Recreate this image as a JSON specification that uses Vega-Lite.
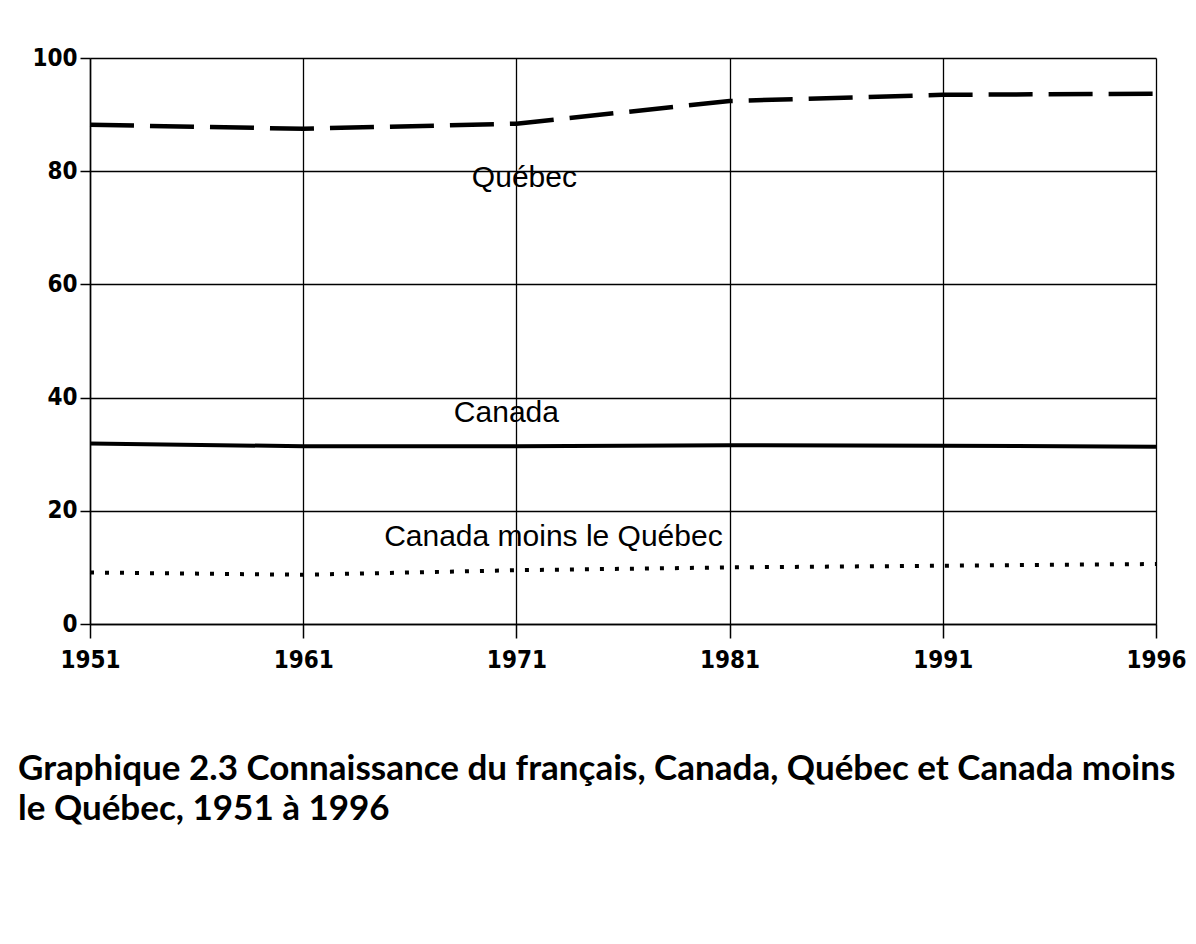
{
  "$schema": "https://vega.github.io/schema/vega-lite/v6.json",
  "autosize": {"type": "none"},
  "width": 1066,
  "height": 566,
  "padding": {"left": 90, "top": 58, "right": 40, "bottom": 320},
  "background": "white",
  "config": {
    "view": {"stroke": null},
    "axis": {
      "gridColor": "black", "gridWidth": 1.3, "gridOpacity": 1,
      "domainColor": "black", "domainWidth": 1.5,
      "tickColor": "black", "tickWidth": 1.5,
      "labelFont": "DejaVu Sans Condensed, Liberation Sans", "labelColor": "black", "labelFontSize": 24, "labelFontWeight": "bold",
      "title": null
    }
  },
  "title": {
    "text": ["Graphique 2.3 Connaissance du français, Canada, Québec et Canada moins", "le Québec, 1951 à 1996"],
    "orient": "bottom", "anchor": "start", "frame": "group",
    "font": "Lato", "fontSize": 35, "fontWeight": "bold", "color": "black",
    "lineHeight": 40, "offset": 80, "dx": -72
  },
  "datasets": {
    "series": [
      {"year": "1951", "series": "Québec", "value": 88.2},
      {"year": "1961", "series": "Québec", "value": 87.5},
      {"year": "1971", "series": "Québec", "value": 88.4},
      {"year": "1981", "series": "Québec", "value": 92.4},
      {"year": "1991", "series": "Québec", "value": 93.5},
      {"year": "1996", "series": "Québec", "value": 93.7},
      {"year": "1951", "series": "Canada", "value": 31.9},
      {"year": "1961", "series": "Canada", "value": 31.4},
      {"year": "1971", "series": "Canada", "value": 31.4},
      {"year": "1981", "series": "Canada", "value": 31.6},
      {"year": "1991", "series": "Canada", "value": 31.5},
      {"year": "1996", "series": "Canada", "value": 31.3},
      {"year": "1951", "series": "Canada moins le Québec", "value": 9.1},
      {"year": "1961", "series": "Canada moins le Québec", "value": 8.7},
      {"year": "1971", "series": "Canada moins le Québec", "value": 9.5},
      {"year": "1981", "series": "Canada moins le Québec", "value": 10.0},
      {"year": "1991", "series": "Canada moins le Québec", "value": 10.3},
      {"year": "1996", "series": "Canada moins le Québec", "value": 10.6}
    ],
    "labels": [
      {"label": "Québec", "year": "1971", "value": 78.8},
      {"label": "Canada", "year": "1971", "value": 37.3},
      {"label": "Canada moins le Québec", "year": "1971", "value": 15.4}
    ]
  },
  "layer": [
    {
      "data": {"name": "series"},
      "transform": [{"filter": "datum.series === 'Québec'"}],
      "mark": {"type": "line", "color": "black", "strokeWidth": 4.5, "strokeDash": [44, 16]},
      "encoding": {
        "x": {"field": "year", "type": "ordinal", "scale": {"type": "point", "padding": 0},
          "axis": {"grid": true, "labelAngle": 0, "tickSize": 14, "labelPadding": 10, "domain": true}},
        "y": {"field": "value", "type": "quantitative", "scale": {"domain": [0, 100], "nice": false},
          "axis": {"grid": true, "values": [0, 20, 40, 60, 80, 100], "tickSize": 10, "labelPadding": 3}}
      }
    },
    {
      "data": {"name": "series"},
      "transform": [{"filter": "datum.series === 'Canada'"}],
      "mark": {"type": "line", "color": "black", "strokeWidth": 4},
      "encoding": {
        "x": {"field": "year", "type": "ordinal"},
        "y": {"field": "value", "type": "quantitative"}
      }
    },
    {
      "data": {"name": "series"},
      "transform": [{"filter": "datum.series === 'Canada moins le Québec'"}],
      "mark": {"type": "line", "color": "black", "strokeWidth": 4, "strokeDash": [4, 11]},
      "encoding": {
        "x": {"field": "year", "type": "ordinal"},
        "y": {"field": "value", "type": "quantitative"}
      }
    },
    {
      "data": {"name": "labels"},
      "transform": [{"filter": "datum.label === 'Québec'"}],
      "mark": {"type": "text", "font": "Liberation Sans", "fontSize": 30, "color": "black", "align": "center", "baseline": "middle", "dx": 8},
      "encoding": {
        "x": {"field": "year", "type": "ordinal"},
        "y": {"field": "value", "type": "quantitative"},
        "text": {"field": "label"}
      }
    },
    {
      "data": {"name": "labels"},
      "transform": [{"filter": "datum.label === 'Canada'"}],
      "mark": {"type": "text", "font": "Liberation Sans", "fontSize": 30, "color": "black", "align": "center", "baseline": "middle", "dx": -10},
      "encoding": {
        "x": {"field": "year", "type": "ordinal"},
        "y": {"field": "value", "type": "quantitative"},
        "text": {"field": "label"}
      }
    },
    {
      "data": {"name": "labels"},
      "transform": [{"filter": "datum.label === 'Canada moins le Québec'"}],
      "mark": {"type": "text", "font": "Liberation Sans", "fontSize": 30, "color": "black", "align": "center", "baseline": "middle", "dx": 37},
      "encoding": {
        "x": {"field": "year", "type": "ordinal"},
        "y": {"field": "value", "type": "quantitative"},
        "text": {"field": "label"}
      }
    }
  ]
}
